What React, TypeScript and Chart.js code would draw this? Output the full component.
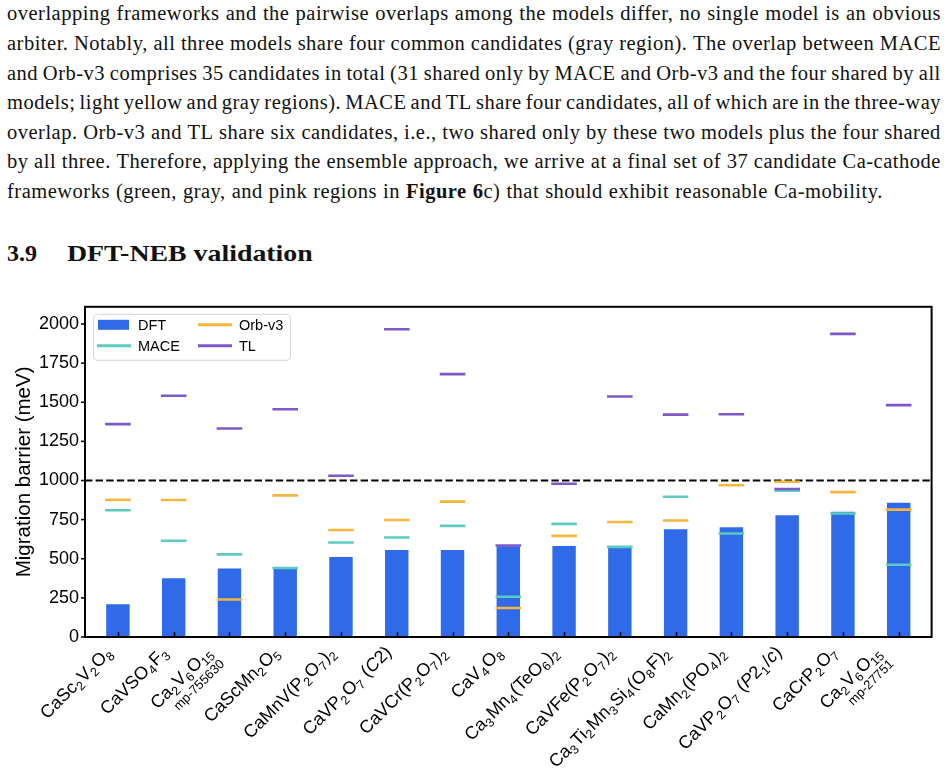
import React, { useEffect, useRef } from 'react';
import { Chart, registerables } from 'chart.js';

Chart.register(...registerables);

// ---- data -------------------------------------------------------------
// Formula markup: _{..} = subscript, *..* = italic
const categories = [
  'CaSc_{2}V_{2}O_{8}',
  'CaVSO_{4}F_{3}',
  'Ca_{2}V_{6}O_{15}',
  'CaScMn_{2}O_{5}',
  'CaMnV(P_{2}O_{7})_{2}',
  'CaVP_{2}O_{7} (*C*2)',
  'CaVCr(P_{2}O_{7})_{2}',
  'CaV_{4}O_{8}',
  'Ca_{3}Mn_{4}(TeO_{6})_{2}',
  'CaVFe(P_{2}O_{7})_{2}',
  'Ca_{3}Ti_{2}Mn_{3}Si_{4}(O_{8}F)_{2}',
  'CaMn_{2}(PO_{4})_{2}',
  'CaVP_{2}O_{7} (*P*2_{1}/*c*)',
  'CaCrP_{2}O_{7}',
  'Ca_{2}V_{6}O_{15}',
];
const materialIds = ['', '', 'mp-755630', '', '', '', '', '', '', '', '', '', '', '', 'mp-27751'];

// migration barriers in meV
const dftBarrier = [210, 375, 437, 440, 511, 556, 556, 580, 581, 572, 689, 702, 778, 801, 858];
const maceBarrier = [810, 615, 528, 441, 604, 636, 710, 257, 723, 576, 896, 661, 935, 789, 462];
const orbBarrier = [877, 875, 240, 905, 684, 748, 865, 185, 646, 735, 744, 970, 992, 926, 814];
const tlBarrier = [1360, 1542, 1332, 1455, 1030, 1967, 1680, 585, 979, 1537, 1421, 1423, 946, 1937, 1482];

const yTickValues = [0, 250, 500, 750, 1000, 1250, 1500, 1750, 2000];
const thresholdMeV = 1000;

const paragraphLines = [
  'overlapping frameworks and the pairwise overlaps among the models differ, no single model is an obvious',
  'arbiter. Notably, all three models share four common candidates (gray region). The overlap between MACE',
  'and Orb-v3 comprises 35 candidates in total (31 shared only by MACE and Orb-v3 and the four shared by all',
  'models; light yellow and gray regions). MACE and TL share four candidates, all of which are in the three-way',
  'overlap. Orb-v3 and TL share six candidates, i.e., two shared only by these two models plus the four shared',
  'by all three. Therefore, applying the ensemble approach, we arrive at a final set of 37 candidate Ca-cathode',
  'frameworks (green, gray, and pink regions in **Figure 6**c) that should exhibit reasonable Ca-mobility.',
];

// ---- styling ----------------------------------------------------------
const FONT = '"Liberation Sans", Arial, Helvetica, sans-serif';
const SERIF = '"Liberation Serif", "Times New Roman", serif';
const BLUE = '#2f6be8';
const TEAL = '#5ccbc1';
const ORANGE = '#f6b53d';
const PURPLE = '#7e58c9';

const MAIN_PX = 18;
const SUB_PX = 12.5;
const NOTE_PX = 13;

type Run = { text: string; sub: boolean; italic: boolean };

function parseFormula(s: string): Run[] {
  const runs: Run[] = [];
  let italic = false;
  let buf = '';
  let i = 0;
  const flush = () => {
    if (buf) {
      runs.push({ text: buf, sub: false, italic });
      buf = '';
    }
  };
  while (i < s.length) {
    const ch = s[i];
    if (ch === '*') {
      flush();
      italic = !italic;
      i++;
      continue;
    }
    if (ch === '_' && s[i + 1] === '{') {
      flush();
      const end = s.indexOf('}', i + 2);
      runs.push({ text: s.slice(i + 2, end), sub: true, italic });
      i = end + 1;
      continue;
    }
    buf += ch;
    i++;
  }
  flush();
  return runs;
}

const runFont = (r: Run) => `${r.italic ? 'italic ' : ''}${r.sub ? SUB_PX : MAIN_PX}px ${FONT}`;
const SUB_GAP = 1;

const toPoints = (vals: number[]) => vals.map((y, i) => ({ x: i, y }));

const markerSet = (label: string, vals: number[], color: string, order: number) => ({
  type: 'line' as const,
  label,
  data: toPoints(vals),
  showLine: false,
  pointStyle: 'line' as const,
  pointRadius: 12.8,
  pointHoverRadius: 12.8,
  pointBorderWidth: 2.6,
  pointHoverBorderWidth: 2.6,
  borderColor: color,
  backgroundColor: color,
  pointBorderColor: color,
  order,
});

const decorPlugin = {
  id: 'decor',
  beforeDatasetsDraw(chart: any) {
    const { ctx, chartArea: a, scales } = chart;
    const y = scales.y.getPixelForValue(thresholdMeV);
    ctx.save();
    ctx.strokeStyle = '#000';
    ctx.lineWidth = 2;
    ctx.setLineDash([7.4, 3.2]);
    ctx.beginPath();
    ctx.moveTo(a.left, y);
    ctx.lineTo(a.right, y);
    ctx.stroke();
    ctx.restore();
  },
  afterDraw(chart: any) {
    const { ctx, chartArea: a, scales } = chart;
    ctx.save();

    // axes frame
    ctx.strokeStyle = '#000';
    ctx.lineWidth = 2;
    ctx.strokeRect(a.left, a.top, a.right - a.left, a.bottom - a.top);

    // tick marks: inward on x, outward on y
    ctx.lineWidth = 1.5;
    categories.forEach((_, i) => {
      const x = Math.round(scales.x.getPixelForValue(i)) + 0.5;
      ctx.beginPath();
      ctx.moveTo(x, a.bottom);
      ctx.lineTo(x, a.bottom - 5);
      ctx.stroke();
    });
    yTickValues.forEach((v) => {
      const y = scales.y.getPixelForValue(v);
      ctx.beginPath();
      ctx.moveTo(a.left, y);
      ctx.lineTo(a.left - 4, y);
      ctx.stroke();
    });

    // y-axis title
    ctx.fillStyle = '#000';
    ctx.font = `20.5px ${FONT}`;
    ctx.textAlign = 'center';
    ctx.textBaseline = 'middle';
    ctx.save();
    ctx.translate(24, (a.top + a.bottom) / 2);
    ctx.rotate(-Math.PI / 2);
    ctx.fillText('Migration barrier (meV)', 0, 0);
    ctx.restore();

    // rotated category labels with subscripts
    const c = Math.SQRT1_2;
    ctx.textBaseline = 'alphabetic';
    categories.forEach((lab, i) => {
      const runs = parseFormula(lab);
      const note = materialIds[i];
      const h1 = 22;
      const h2 = note ? 16 : 0;
      const H = h1 + h2;
      let w = 0;
      runs.forEach((r) => {
        ctx.font = runFont(r);
        w += ctx.measureText(r.text).width + (r.sub ? SUB_GAP : 0);
      });
      const x = scales.x.getPixelForValue(i);
      ctx.save();
      ctx.translate(x - c * H + 1, a.bottom + 6);
      ctx.rotate(-Math.PI / 4);
      ctx.textAlign = 'left';
      let u = -w;
      const base = 14.5;
      runs.forEach((r) => {
        ctx.font = runFont(r);
        ctx.fillText(r.text, u, r.sub ? base + 4 : base);
        u += ctx.measureText(r.text).width + (r.sub ? SUB_GAP : 0);
      });
      if (note) {
        ctx.font = `${NOTE_PX}px ${FONT}`;
        ctx.textAlign = 'right';
        ctx.fillText(note, 0, base + 16);
      }
      ctx.restore();
    });

    // legend (two columns)
    const lx = a.left + 8;
    const ly = a.top + 7;
    const lw = 197;
    const lh = 46;
    ctx.beginPath();
    ctx.roundRect(lx + 0.5, ly + 0.5, lw, lh, 4);
    ctx.fillStyle = 'rgba(255,255,255,0.85)';
    ctx.fill();
    ctx.strokeStyle = '#d4d4d4';
    ctx.lineWidth = 1;
    ctx.stroke();

    const ds = chart.data.datasets;
    const items = [
      { ds: ds[0], col: 0, row: 0, patch: true },
      { ds: ds[1], col: 0, row: 1, patch: false },
      { ds: ds[2], col: 1, row: 0, patch: false },
      { ds: ds[3], col: 1, row: 1, patch: false },
    ];
    const colX = [lx + 5, lx + 106];
    const rowY = [ly + 11, ly + 32];
    ctx.font = `14.5px ${FONT}`;
    ctx.textAlign = 'left';
    ctx.textBaseline = 'middle';
    items.forEach((it) => {
      const hx = colX[it.col];
      const hy = rowY[it.row];
      const color = it.ds.backgroundColor;
      if (it.patch) {
        ctx.fillStyle = color;
        ctx.fillRect(hx, hy - 5, 31, 10);
      } else {
        ctx.strokeStyle = color;
        ctx.lineWidth = 3;
        ctx.beginPath();
        ctx.moveTo(hx - 1, hy);
        ctx.lineTo(hx + 33, hy);
        ctx.stroke();
      }
      ctx.fillStyle = '#000';
      ctx.fillText(it.ds.label, hx + 40, hy + 1);
    });

    ctx.restore();
  },
};

// Splits a line into word groups (keeping **bold** spans) for flex-justified layout
function lineWords(text: string) {
  const parts = text.split('**');
  const groups: { t: string; bold: boolean }[][] = [];
  let prevEndedWithSpace = true;
  parts.forEach((p, k) => {
    if (p === '') return;
    const bold = k % 2 === 1;
    const toks = p.split(' ');
    toks.forEach((t, j) => {
      if (t === '') return;
      const glued = j === 0 && !prevEndedWithSpace && groups.length > 0;
      if (glued) groups[groups.length - 1].push({ t, bold });
      else groups.push([{ t, bold }]);
    });
    prevEndedWithSpace = p.endsWith(' ');
  });
  return groups;
}

export default function App() {
  const canvasRef = useRef<HTMLCanvasElement>(null);

  useEffect(() => {
    if (!canvasRef.current) return;
    const chart = new Chart(canvasRef.current, {
      type: 'bar',
      data: {
        datasets: [
          {
            type: 'bar',
            label: 'DFT',
            data: toPoints(dftBarrier),
            backgroundColor: BLUE,
            borderWidth: 0,
            barPercentage: 0.42,
            categoryPercentage: 1,
            order: 5,
          },
          markerSet('MACE', maceBarrier, TEAL, 3),
          markerSet('Orb-v3', orbBarrier, ORANGE, 2),
          markerSet('TL', tlBarrier, PURPLE, 1),
        ] as any,
      },
      options: {
        responsive: false,
        animation: false,
        events: [],
        layout: { padding: { top: 14, right: 15, bottom: 0, left: 0 } },
        plugins: {
          legend: { display: false },
          tooltip: { enabled: false },
        },
        scales: {
          x: {
            type: 'linear',
            min: -0.59,
            max: 14.59,
            offset: false,
            grid: { display: false, drawTicks: false },
            border: { display: false },
            ticks: { display: false },
            afterFit: (s: any) => {
              s.height = 132;
            },
          },
          y: {
            min: 0,
            max: 2110,
            grid: { display: false, drawTicks: false },
            border: { display: false },
            ticks: {
              stepSize: 250,
              includeBounds: false,
              padding: 6,
              color: '#000',
              font: { family: FONT, size: 18 },
              callback: (v: any) => String(v),
            },
            afterFit: (s: any) => {
              s.width = 85;
            },
          },
        },
      } as any,
      plugins: [decorPlugin],
    });
    return () => chart.destroy();
  }, []);

  const lastIdx = paragraphLines.length - 1;
  const textStyle = {
    fontFamily: SERIF,
    fontSize: 20.5,
    lineHeight: '20px',
    letterSpacing: '0.5px',
    color: '#111',
    whiteSpace: 'nowrap' as const,
  };

  return (
    <div style={{ position: 'relative', width: 947, height: 769, overflow: 'hidden', background: '#fff' }}>
      <style>{'body{margin:0;background:#fff}'}</style>
      {paragraphLines.map((ln, i) => (
        <div
          key={i}
          style={{
            ...textStyle,
            position: 'absolute',
            left: 7,
            top: 3.4 + 29.6 * i,
            width: 934,
            display: 'flex',
            justifyContent: i < lastIdx ? 'space-between' : 'flex-start',
            columnGap: i < lastIdx ? 0 : '6px',
          }}
        >
          {lineWords(ln).map((g, k) => (
            <span key={k}>
              {g.map((p, m) => (p.bold ? <b key={m}>{p.t}</b> : <span key={m}>{p.t}</span>))}
            </span>
          ))}
        </div>
      ))}
      <div
        style={{
          position: 'absolute',
          left: 7,
          top: 241,
          fontFamily: SERIF,
          fontWeight: 'bold',
          fontSize: 24,
          lineHeight: '24px',
          color: '#111',
          whiteSpace: 'nowrap',
        }}
      >
        3.9
      </div>
      <div
        style={{
          position: 'absolute',
          left: 67,
          top: 241,
          fontFamily: SERIF,
          fontWeight: 'bold',
          fontSize: 24,
          lineHeight: '24px',
          color: '#111',
          whiteSpace: 'nowrap',
          transform: 'scaleX(1.16)',
          transformOrigin: 'left',
        }}
      >
        DFT-NEB validation
      </div>
      <div style={{ position: 'absolute', left: 0, top: 290, width: 947, height: 479 }}>
        <canvas ref={canvasRef} width={947} height={479} style={{ display: 'block' }} />
      </div>
    </div>
  );
}
